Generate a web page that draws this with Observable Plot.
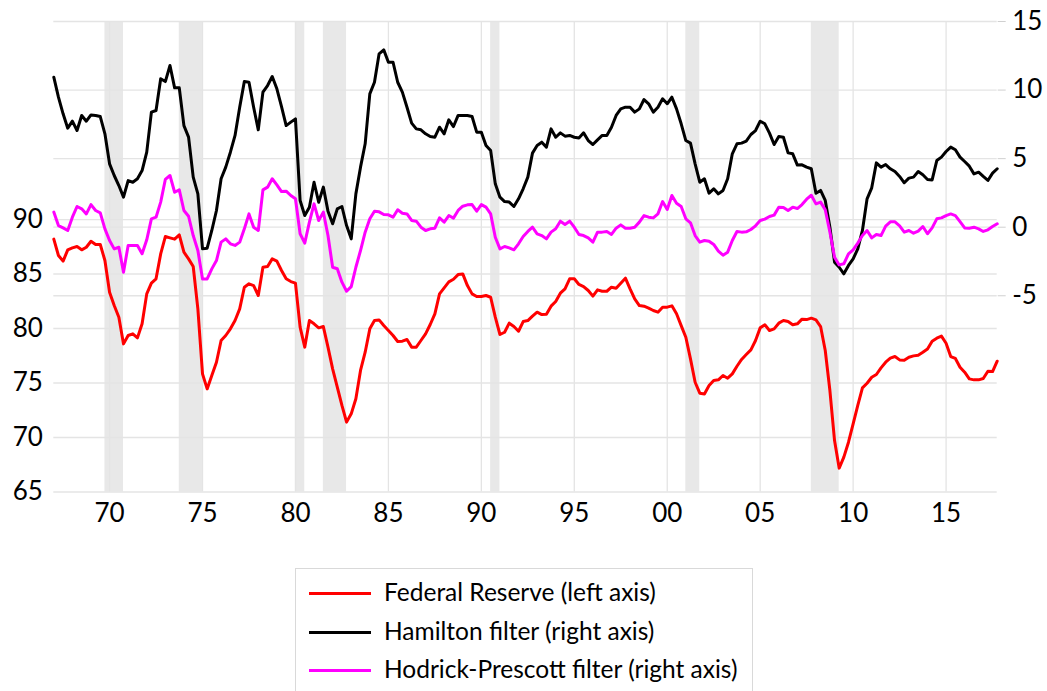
<!DOCTYPE html>
<html>
<head>
<meta charset="utf-8">
<script src="https://cdn.jsdelivr.net/npm/d3@7"></script>
<script src="https://cdn.jsdelivr.net/npm/@observablehq/plot@0.6"></script>
<style>
  html, body { margin: 0; padding: 0; background: #fff; }
  #wrap { position: relative; width: 1047px; height: 691px; overflow: hidden; font-family: Lato, "Noto Sans", sans-serif; }
  #legend { position: absolute; left: 295px; top: 568px; width: 458px; height: 140px; border: 1px solid #d9d9d9; box-sizing: border-box; }
  .item { position: absolute; left: 0; height: 30px; }
  .swatch { position: absolute; left: 13px; width: 62px; height: 3px; }
  .lab { position: absolute; left: 88px; font-size: 24.5px; line-height: 30px; white-space: nowrap; color: #000; }
</style>
</head>
<body>
<div id="wrap">
  <div id="chart"></div>
  <div id="legend"></div>
</div>
<script>
// Quarterly data, first observation 1967Q1
const startYear = 1967;
// Capacity utilization, Federal Reserve (left axis)
const fed = [
  88.2, 86.7, 86.18, 87.22, 87.4, 87.52, 87.22, 87.46,
  88.01, 87.71, 87.71, 86.24, 83.33, 82.11, 81.04, 78.59,
  79.36, 79.51, 79.14, 80.43, 83.18, 84.16, 84.56, 86.85,
  88.44, 88.32, 88.2, 88.59, 87.0, 86.39, 85.69, 81.8,
  75.84, 74.46, 75.69, 76.91, 78.9, 79.36, 79.97, 80.73,
  81.8, 83.79, 84.1, 83.94, 83.03, 85.63, 85.69, 86.39,
  86.18, 85.32, 84.56, 84.31, 84.16, 80.12, 78.29, 80.73,
  80.43, 80.06, 80.18, 78.29, 76.3, 74.62, 72.94, 71.41,
  72.17, 73.55, 76.15, 77.83, 79.97, 80.73, 80.79, 80.27,
  79.82, 79.36, 78.81, 78.84, 78.99, 78.29, 78.29, 78.9,
  79.51, 80.37, 81.35, 83.18, 83.73, 84.28, 84.52, 84.95,
  85.01, 83.94, 83.18, 82.94, 82.94, 83.03, 82.87, 81.04,
  79.45, 79.66, 80.49, 80.18, 79.75, 80.64, 80.73, 81.13,
  81.5, 81.28, 81.31, 82.05, 82.48, 83.24, 83.64, 84.56,
  84.56, 84.04, 83.85, 83.49, 82.97, 83.55, 83.42, 83.42,
  83.79, 83.7, 84.16, 84.62, 83.64, 82.72, 82.11, 82.05,
  81.87, 81.65, 81.5, 81.96, 81.96, 82.08, 81.35, 80.27,
  79.2, 77.22, 75.07, 74.07, 74.0, 74.77, 75.23, 75.29,
  75.69, 75.44, 75.84, 76.54, 77.16, 77.61, 78.04, 78.9,
  80.06, 80.34, 79.82, 79.97, 80.49, 80.73, 80.64, 80.34,
  80.43, 80.86, 80.82, 80.95, 80.79, 80.18, 77.98, 74.31,
  69.72, 67.19, 68.2, 69.57, 71.25, 72.94, 74.56, 74.98,
  75.53, 75.78, 76.39, 76.91, 77.28, 77.43, 77.12, 77.09,
  77.37, 77.49, 77.55, 77.83, 78.13, 78.84, 79.11, 79.3,
  78.65, 77.43, 77.25, 76.45, 75.99, 75.38, 75.29, 75.29,
  75.41, 76.08, 76.05, 77.0
];
// Hamilton filter (right axis)
const hamilton = [
  10.94, 9.48, 8.27, 7.22, 7.73, 7.05, 8.15, 7.73,
  8.19, 8.15, 8.07, 6.81, 4.62, 3.77, 3.04, 2.19,
  3.40, 3.28, 3.53, 4.13, 5.47, 8.39, 8.51, 10.82,
  10.62, 11.79, 10.16, 10.16, 7.41, 6.57, 3.65, 2.43,
  -1.58, -1.53, -0.24, 1.22, 3.53, 4.38, 5.47, 6.69,
  8.75, 10.62, 10.57, 8.75, 7.10, 9.85, 10.33, 10.99,
  10.09, 8.80, 7.41, 7.66, 7.90, 1.95, 0.85, 1.46,
  3.28, 1.82, 2.92, 1.17, 0.25, 1.34, 1.51, 0.12,
  -0.85, 2.43, 4.38, 6.08, 9.72, 10.57, 12.64, 12.93,
  12.03, 12.03, 10.57, 9.85, 8.75, 7.59, 7.17, 7.10,
  6.81, 6.61, 6.56, 7.29, 6.81, 7.83, 7.34, 8.15,
  8.15, 8.15, 8.07, 6.93, 6.93, 5.96, 5.59, 3.16,
  2.19, 1.87, 1.83, 1.51, 2.07, 2.80, 3.65, 5.40,
  5.96, 6.20, 5.84, 7.17, 6.56, 6.88, 6.64, 6.69,
  6.56, 6.51, 6.88, 6.32, 6.03, 6.37, 6.69, 6.69,
  7.29, 8.15, 8.63, 8.75, 8.75, 8.39, 8.63, 9.31,
  9.00, 8.39, 8.75, 9.36, 9.00, 9.48, 8.63, 7.54,
  6.32, 6.13, 4.62, 3.28, 3.53, 2.48, 2.80, 2.43,
  2.68, 3.53, 5.35, 6.08, 6.13, 6.28, 6.76, 7.05,
  7.73, 7.54, 6.86, 6.03, 6.61, 6.56, 5.42, 5.35,
  4.53, 4.55, 4.38, 4.26, 2.48, 2.68, 1.95, 0.00,
  -2.55, -2.92, -3.40, -2.79, -2.31, -1.58, -0.24, 2.07,
  2.87, 4.69, 4.38, 4.57, 4.26, 4.06, 3.70, 3.24,
  3.58, 3.65, 4.06, 3.82, 3.48, 3.45, 4.86, 5.11,
  5.52, 5.84, 5.65, 5.11, 4.79, 4.45, 3.89, 4.01,
  3.70, 3.41, 3.94, 4.26
];
// Hodrick-Prescott filter (right axis)
const hp = [
  1.10, 0.12, -0.05, -0.24, 0.73, 1.51, 1.34, 0.97,
  1.65, 1.22, 1.05, -0.12, -0.97, -1.58, -1.46, -3.28,
  -1.33, -1.33, -1.33, -1.94, -0.92, 0.61, 0.73, 1.83,
  3.48, 3.77, 2.55, 2.72, 1.22, 0.80, -0.61, -1.70,
  -3.77, -3.77, -3.04, -2.43, -1.09, -0.85, -1.21, -1.33,
  -1.09, -0.12, 0.97, 0.00, -0.24, 2.72, 2.92, 3.53,
  3.09, 2.60, 2.63, 2.31, 2.07, -0.48, -1.16, 0.37,
  1.70, 0.49, 1.10, -0.61, -2.92, -3.03, -4.01, -4.67,
  -4.33, -2.92, -1.70, -0.36, 0.61, 1.17, 1.12, 0.93,
  0.90, 0.73, 1.27, 1.02, 0.97, 0.49, 0.44, 0.00,
  -0.24, -0.12, -0.07, 0.68, 0.37, 0.85, 0.66, 1.22,
  1.53, 1.63, 1.65, 1.17, 1.65, 1.46, 0.97, -0.73,
  -1.58, -1.41, -1.51, -1.65, -1.21, -0.68, -0.31, 0.00,
  -0.48, -0.61, -0.85, -0.36, -0.12, 0.44, 0.20, 0.44,
  0.00, -0.53, -0.61, -0.78, -1.09, -0.36, -0.36, -0.31,
  -0.53, -0.07, 0.17, -0.07, -0.07, 0.00, 0.37, 0.85,
  0.73, 0.68, 0.97, 1.87, 1.29, 2.31, 1.75, 1.51,
  0.61, 0.32, -0.61, -1.09, -0.97, -1.02, -1.26, -1.75,
  -2.04, -1.82, -0.97, -0.31, -0.36, -0.34, -0.17, 0.10,
  0.49, 0.59, 0.78, 0.88, 1.46, 1.44, 1.22, 1.46,
  1.36, 1.65, 2.04, 2.33, 1.70, 1.83, 1.27, -0.36,
  -2.19, -2.75, -2.67, -1.94, -1.65, -1.16, -0.61, -0.24,
  -0.78, -0.53, -0.61, 0.08, 0.39, 0.39, 0.10, -0.36,
  -0.24, -0.44, -0.29, 0.05, -0.48, -0.05, 0.61, 0.68,
  0.85, 0.97, 0.85, 0.41, -0.05, -0.07, 0.00, -0.12,
  -0.31, -0.19, 0.05, 0.25
];
// NBER recessions (decimal years, peak quarter to trough quarter)
const recessionStart = [1969.75, 1973.75, 1980.0, 1981.5, 1990.5, 2001.0, 2007.75];
const recessionEnd   = [1970.75, 1975.0, 1980.5, 1982.75, 1991.0, 2001.75, 2009.25];
// Axis ticks
const xTicks = [1970, 1975, 1980, 1985, 1990, 1995, 2000, 2005, 2010, 2015];
const leftTicks = [65, 70, 75, 80, 85, 90];
const rightTicks = [-5, 0, 5, 10, 15];
const leftDomain = [65, 108.17];
const rightDomain = [-19.31, 15];
const seriesNames = ["Federal Reserve (left axis)", "Hamilton filter (right axis)", "Hodrick-Prescott filter (right axis)"];
const seriesColors = ["#ff0000", "#000000", "#ff00ff"];

// map right-axis values onto the left-axis scale
const k = (leftDomain[1] - leftDomain[0]) / (rightDomain[1] - rightDomain[0]);
const toLeft = r => leftDomain[0] + (r - rightDomain[0]) * k;
const toRight = v => rightDomain[0] + (v - leftDomain[0]) / k;

const tq = i => startYear + i / 4;
const fedData = fed.map((v, i) => ({t: tq(i), v}));
const hamData = hamilton.map((r, i) => ({t: tq(i), v: toLeft(r)}));
const hpData = hp.map((r, i) => ({t: tq(i), v: toLeft(r)}));
const recessions = recessionStart.map((s, i) => ({start: s, end: recessionEnd[i]}));

const grid = "#e4e4e4";
const chart = Plot.plot({
  width: 1047,
  height: 545,
  marginTop: 21,
  marginBottom: 53.5,
  marginLeft: 53.3,
  marginRight: 50.3,
  style: {fontFamily: "Lato, 'Noto Sans', sans-serif", fontSize: "26px", color: "#000", background: "#fff"},
  x: {domain: [startYear, tq(fed.length - 1)]},
  y: {domain: leftDomain},
  marks: [
    Plot.rect(recessions, {x1: "start", x2: "end", fill: "#e8e8e8"}),
    Plot.ruleX(xTicks, {stroke: grid, strokeWidth: 1.3}),
    Plot.ruleY(leftTicks, {stroke: grid, strokeWidth: 1.3}),
    Plot.ruleY(rightTicks.map(toLeft), {stroke: grid, strokeWidth: 1.3}),
    Plot.axisX({ticks: xTicks, tickFormat: d => String(d).slice(2), tickSize: 0, tickPadding: 12, fontSize: 26}),
    Plot.axisY({anchor: "left", ticks: leftTicks, tickSize: 0, tickPadding: 11, fontSize: 26, label: null}),
    Plot.axisY({anchor: "right", ticks: rightTicks.map(toLeft), tickFormat: v => String(Math.round(toRight(v))),
      tickSize: 8, tickPadding: 7, stroke: "#d0d0d0", fill: "#000", fontSize: 26, textAnchor: "start", label: null}),
    Plot.line(fedData, {x: "t", y: "v", stroke: seriesColors[0], strokeWidth: 3}),
    Plot.line(hamData, {x: "t", y: "v", stroke: seriesColors[1], strokeWidth: 3}),
    Plot.line(hpData, {x: "t", y: "v", stroke: seriesColors[2], strokeWidth: 3})
  ]
});
document.getElementById("chart").appendChild(chart);

const legend = document.getElementById("legend");
const tops = [8, 47, 85];
seriesNames.forEach((name, i) => {
  const item = document.createElement("div");
  item.className = "item";
  item.style.top = tops[i] + "px";
  item.innerHTML = `<div class="swatch" style="top:15px;background:${seriesColors[i]}"></div><div class="lab">${name}</div>`;
  legend.appendChild(item);
});
</script>
</body>
</html>
